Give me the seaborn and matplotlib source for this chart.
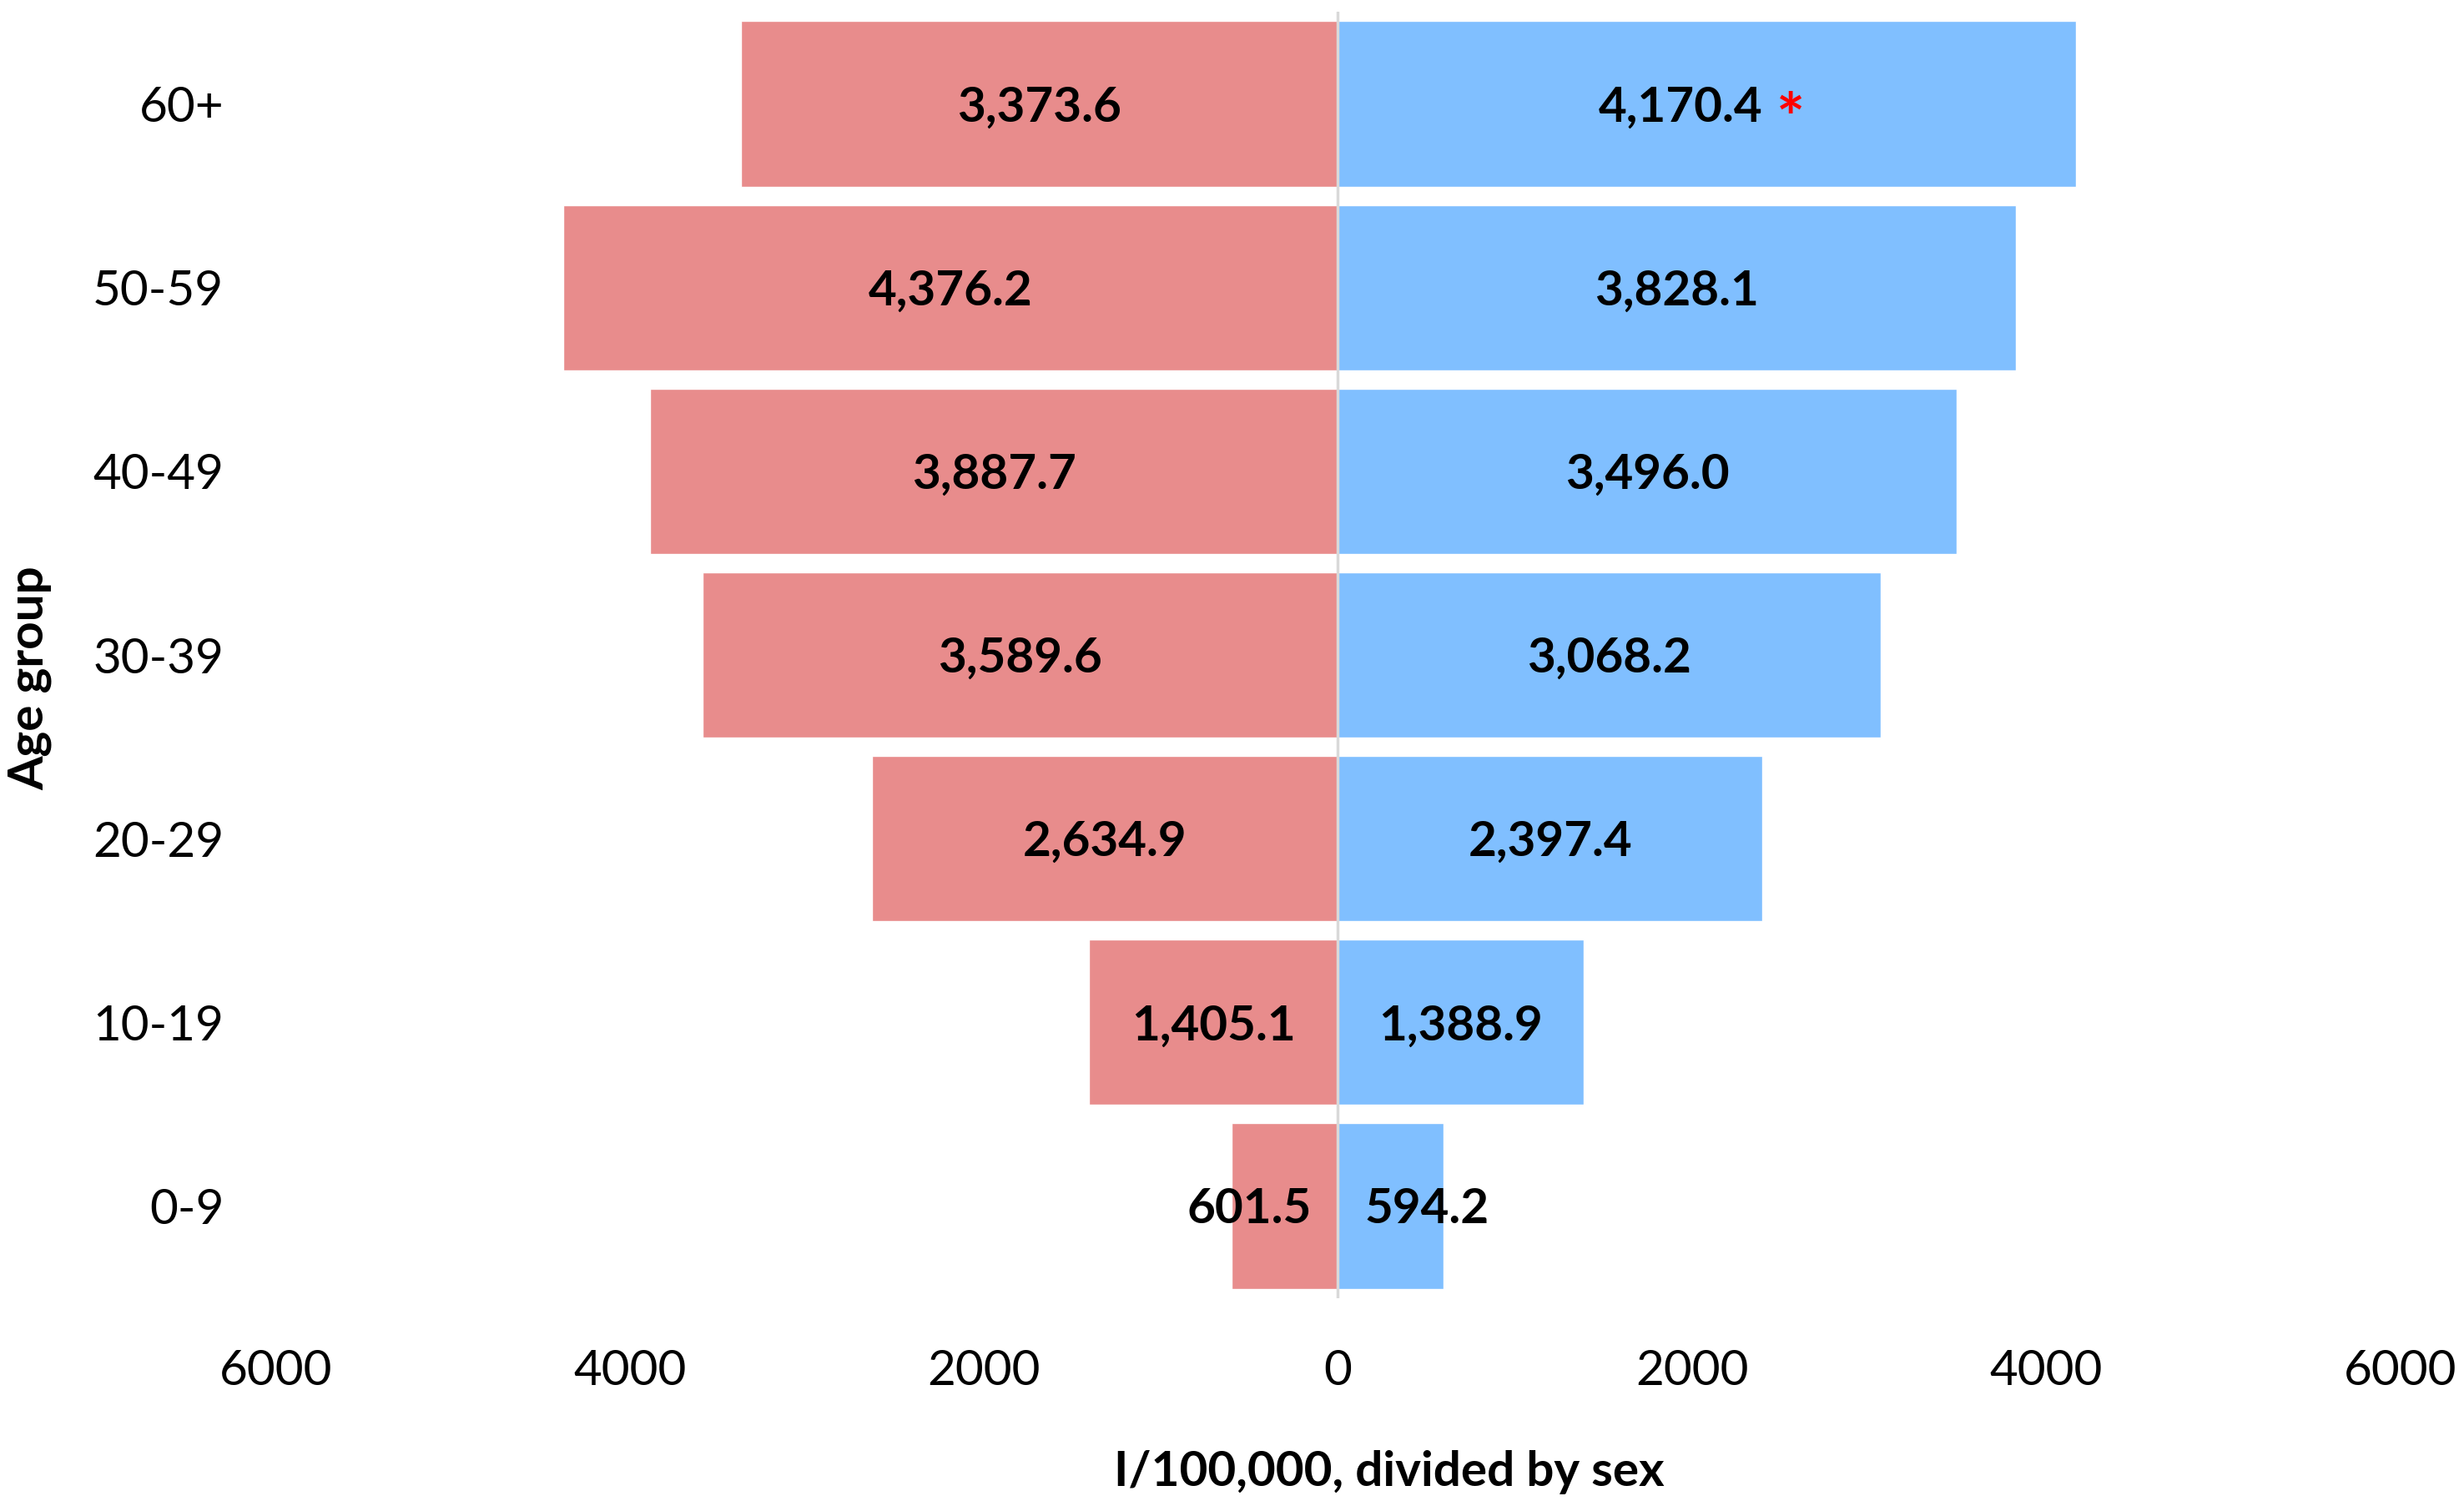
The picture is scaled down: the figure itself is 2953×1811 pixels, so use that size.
import numpy as np
import pandas as pd
import matplotlib
matplotlib.use('Agg')
import matplotlib.pyplot as plt
import seaborn as sns

# data
age_groups = ['60+', '50-59', '40-49', '30-39', '20-29', '10-19', '0-9']
female = [3373.6, 4376.2, 3887.7, 3589.6, 2634.9, 1405.1, 601.5]
male = [4170.4, 3828.1, 3496.0, 3068.2, 2397.4, 1388.9, 594.2]
x_ticks = [-6000, -4000, -2000, 0, 2000, 4000, 6000]
x_tick_labels = ['6000', '4000', '2000', '0', '2000', '4000', '6000']
starred = '60+'

sns.set_theme(style='white')
plt.rcParams['font.family'] = ['Lato', 'DejaVu Sans']
plt.rcParams['axes.labelcolor'] = 'black'

pink = '#E88C8C'
blue = '#80BFFF'

df = pd.DataFrame({'age': age_groups, 'female': female, 'male': male})
df['female_neg'] = -df['female']

fig = plt.figure(figsize=(29.53, 18.11), dpi=100)
ax = fig.add_axes([0.112, 0.141, 0.862, 0.851])

sns.barplot(data=df, x='female_neg', y='age', order=age_groups, color=pink,
            orient='h', width=0.9, saturation=1, ax=ax)
sns.barplot(data=df, x='male', y='age', order=age_groups, color=blue,
            orient='h', width=0.9, saturation=1, ax=ax)

ax.set_xlim(-6000, 6000)
ax.set_ylim(len(age_groups) - 0.5, -0.5)
ax.axvline(0, color='#D9D9D9', lw=2.5, zorder=5)

ax.set_xticks(x_ticks)
ax.set_xticklabels(x_tick_labels)
ax.tick_params(axis='both', length=0, labelsize=42, colors='black')
ax.tick_params(axis='x', pad=44)
ax.tick_params(axis='y', pad=45)
for s in ax.spines.values():
    s.set_visible(False)
ax.grid(False)

ax.set_xlabel('I/100,000, divided by sex', fontsize=42, fontweight='bold', color='black')
ax.xaxis.set_label_coords(0.524, -0.118)
ax.set_ylabel('Age group', fontsize=42, fontweight='bold', color='black')
ax.yaxis.set_label_coords(-0.1055, 0.482)

lab_kw = dict(fontsize=42, fontweight='bold', va='center', color='black', zorder=6)
star_text = None
for i, age in enumerate(age_groups):
    f = df.loc[i, 'female']
    m = df.loc[i, 'male']
    if f < 1000:
        ax.text(-150, i + 0.02, f'{f:,.1f}', ha='right', **lab_kw)
    else:
        ax.text(-f / 2, i + 0.02, f'{f:,.1f}', ha='center', **lab_kw)
    if m < 1000:
        ax.text(150, i + 0.02, f'{m:,.1f}', ha='left', **lab_kw)
    elif age == starred:
        star_text = ax.text(m / 2 - 150, i + 0.02, f'{m:,.1f}', ha='center', **lab_kw)
    else:
        ax.text(m / 2, i + 0.02, f'{m:,.1f}', ha='center', **lab_kw)

if star_text is not None:
    fig.canvas.draw()
    bb = star_text.get_window_extent()
    x_right = ax.transData.inverted().transform((bb.x1, bb.y0))[0]
    ax.text(x_right + 80, age_groups.index(starred) + 0.1, '*', ha='left',
            va='center', fontsize=58, fontweight='bold', color='#FF0000', zorder=6)

fig.savefig('out.png', dpi=100, facecolor='white')
